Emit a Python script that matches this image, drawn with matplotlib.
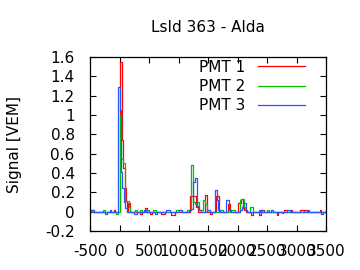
import matplotlib
matplotlib.use('Agg')
import matplotlib.pyplot as plt

# PMT traces as step breakpoints: value holds from t[i] until t[i+1]
pmt1_t = [-500, -475, -450, -100, -70, 0, 40, 60, 85, 110, 135, 150, 185,
          340, 385, 425, 465, 510, 555, 705, 765, 880, 935, 1200, 1290, 1330,
          1445, 1490, 1525, 1565, 1640, 1690, 1840, 1875, 2010, 2050, 2095,
          2115, 2140, 2220, 2265, 2370, 2400, 2450, 2660, 2690, 2790, 2845,
          2900, 2920, 3060, 3120, 3130, 3175, 3390, 3420, 3500]
pmt1_v = [0.0, 0.02, 0.0, 0.02, 0.0, 1.55, 0.74, 0.45, 0.24, 0.11, 0.0, 0.09, 0.0,
          -0.02, 0.0, 0.04, 0.0, -0.02, 0.0, -0.02, 0.0, -0.03, 0.0, 0.16, 0.05, 0.0,
          0.17, 0.0, -0.02, 0.0, 0.16, 0.0, 0.08, 0.0, 0.085, 0.13, 0.04,
          0.02, 0.0, -0.03, 0.0, -0.03, 0.02, 0.0, -0.03, 0.0, 0.02, 0.0,
          0.02, 0.0, 0.02, 0.0, 0.02, 0.0, 0.02, 0.0, 0.0]

pmt2_t = [-500, -475, -450, -280, -250, -60, -30, 0, 30, 55, 95, 155, 175,
          260, 300, 350, 380, 470, 500, 565, 620, 965, 1050, 1150, 1207, 1247,
          1280, 1320, 1350, 1420, 1450, 1490, 1540, 1700, 1760, 1880, 1960,
          2040, 2060, 2100, 2130, 2160, 2210, 2265, 2370, 2400, 2500, 2530, 3500]
pmt2_v = [0.0, 0.02, 0.0, 0.02, 0.0, -0.02, 0.0, 1.0, 0.55, 0.50, 0.11, 0.05, 0.0,
          0.02, 0.0, 0.02, 0.0, 0.02, 0.0, 0.02, 0.0, 0.02, 0.0, 0.02, 0.48, 0.095,
          0.08, 0.095, 0.02, 0.12, 0.08, 0.02, 0.0, 0.02, 0.0, 0.02, 0.0,
          0.12, 0.13, 0.05, 0.02, 0.0, 0.045, 0.0, 0.02, 0.0, 0.02, 0.0, 0.0]

pmt3_t = [-500, -475, -440, -240, -205, -165, -140, -25, 0, 25, 50, 75, 100, 125,
          250, 295, 420, 450, 600, 630, 795, 850, 1000, 1050, 1180, 1215, 1247,
          1281, 1315, 1350, 1380, 1480, 1540, 1615, 1643, 1670, 1700, 1803, 1860,
          1880, 2040, 2070, 2095, 2140, 2160, 2380, 2420, 2560, 2600, 2745, 2770,
          2840, 2880, 3200, 3215, 3420, 3445, 3500]
pmt3_v = [0.0, 0.02, 0.0, -0.02, 0.0, 0.02, 0.0, 1.29, 1.05, 0.41, 0.24, 0.10, 0.035, 0.0,
          -0.02, 0.0, 0.02, 0.0, -0.02, 0.0, 0.02, 0.0, 0.02, 0.0, 0.02, 0.03, 0.31,
          0.35, 0.06, 0.02, 0.0, 0.02, 0.0, 0.225, 0.12, 0.02, 0.0, 0.12, 0.02,
          0.0, 0.02, 0.05, 0.085, 0.02, 0.0, 0.02, 0.0, 0.02, 0.0, -0.01, 0.0,
          0.02, 0.0, 0.02, 0.0, -0.02, 0.0, 0.0]

yticks = [-0.2, 0, 0.2, 0.4, 0.6, 0.8, 1, 1.2, 1.4, 1.6]
ytick_labels = ['-0.2', '0', '0.2', '0.4', '0.6', '0.8', '1', '1.2', '1.4', '1.6']
xticks = [-500, 0, 500, 1000, 1500, 2000, 2500, 3000, 3500]

plt.rcParams['font.family'] = ['DejaVu Sans']
fig = plt.figure(figsize=(3.6, 2.7), dpi=100)
ax = fig.add_axes([0.25, 0.1444, 0.656, 0.6444])

ax.step(pmt1_t, pmt1_v, where='post', color='#ff0000', lw=0.9, label='PMT 1')
ax.step(pmt2_t, pmt2_v, where='post', color='#00c000', lw=0.9, label='PMT 2')
ax.step(pmt3_t, pmt3_v, where='post', color='#2a55ff', lw=0.9, label='PMT 3')

ax.set_xlim(-500, 3500)
ax.set_ylim(-0.2, 1.6)
ax.set_xticks(xticks)
ax.set_xticklabels([str(x) for x in xticks])
ax.set_yticks(yticks)
ax.set_yticklabels(ytick_labels)
ax.tick_params(direction='in', length=4, width=0.8, top=True, right=True, labelsize=11)
ax.tick_params(axis='y', pad=11)
ax.tick_params(axis='x', pad=9)
for s in ax.spines.values():
    s.set_linewidth(0.9)

ax.set_title('LsId 363 - Alda', fontsize=11, pad=18)
ax.set_ylabel('Signal [VEM]', fontsize=11)
ax.yaxis.set_label_coords(-0.29, 0.5)

ax.legend(loc='upper right', bbox_to_anchor=(0.911, 0.985), frameon=False,
          markerfirst=False, fontsize=11, handlelength=3.1, handletextpad=0.8,
          labelspacing=0.28, borderpad=0, borderaxespad=0)

fig.savefig('out.png', dpi=100)
